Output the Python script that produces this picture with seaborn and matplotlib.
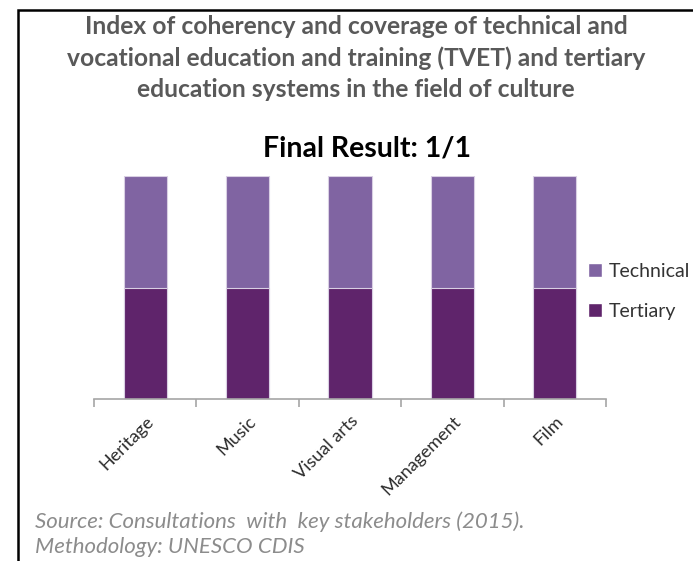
import matplotlib
matplotlib.use("Agg")
import matplotlib.pyplot as plt
import matplotlib.patches as mpatches
from matplotlib.ticker import FixedLocator
import seaborn as sns
import pandas as pd

# Data
categories = ["Heritage", "Music", "Visual arts", "Management", "Film"]
tertiary = [0.5, 0.5, 0.5, 0.5, 0.5]
technical = [0.5, 0.5, 0.5, 0.5, 0.5]

title_lines = ("Index of coherency and coverage of technical and\n"
               "vocational education and training (TVET) and tertiary\n"
               "education systems in the field of culture")
subtitle = "Final Result: 1/1"
source_lines = ["Source: Consultations  with  key stakeholders (2015).",
                "Methodology: UNESCO CDIS"]

col_technical = "#8064A2"
col_tertiary = "#5F246B"

sns.set_theme(style="white")
plt.rcParams["font.family"] = ["Lato", "DejaVu Sans"]

df = pd.DataFrame({"category": categories,
                   "tertiary": tertiary,
                   "technical": technical})
df["total"] = df["tertiary"] + df["technical"]

fig = plt.figure(figsize=(6.93, 5.61), dpi=100)
ax = fig.add_axes([94 / 693, 1 - 399 / 561, (606 - 94) / 693, (399 - 176) / 561])

sns.barplot(data=df, x="category", y="total", color=col_technical,
            saturation=1, width=0.42, edgecolor="#d9cfe3", linewidth=0.8, ax=ax)
sns.barplot(data=df, x="category", y="tertiary", color=col_tertiary,
            saturation=1, width=0.42, edgecolor="#d9cfe3", linewidth=0.8, ax=ax)

ax.set_ylim(0, 1)
ax.set_xlim(-0.5, len(categories) - 0.5)
ax.set_xlabel("")
ax.set_ylabel("")
ax.set_yticks([])
for side in ["left", "right", "top"]:
    ax.spines[side].set_visible(False)
ax.spines["bottom"].set_color("#a6a6a6")
ax.spines["bottom"].set_linewidth(1.2)

# category boundary tick marks
ax.xaxis.set_minor_locator(FixedLocator([i - 0.5 for i in range(len(categories) + 1)]))
ax.tick_params(axis="x", which="minor", bottom=True, length=6, width=1.2,
               color="#a6a6a6", direction="out")
ax.tick_params(axis="x", which="major", bottom=False, length=0, pad=10)
ax.set_xticks(range(len(categories)))
ax.set_xticklabels(categories, rotation=45, ha="right", rotation_mode="anchor",
                   fontsize=13, color="#2b2b2b")

# Frame around the figure
fig.add_artist(mpatches.Rectangle((18 / 693, -0.1), 1.2, (1 - 10 / 561) + 0.1,
                                  transform=fig.transFigure, fill=False,
                                  edgecolor="black", linewidth=1.8))

fig.text(356 / 693, 1 - 58 / 561, title_lines, ha="center", va="center",
         fontsize=17.7, fontweight="bold", color="#595959", linespacing=1.42)
fig.text(367 / 693, 1 - 148 / 561, subtitle, ha="center", va="center",
         fontsize=20.5, fontweight="bold", color="black")

handles = [mpatches.Patch(facecolor=col_technical, label="Technical"),
           mpatches.Patch(facecolor=col_tertiary, label="Tertiary")]
fig.legend(handles=handles, loc="upper left",
           bbox_to_anchor=(580 / 693, 1 - 255 / 561), frameon=False,
           fontsize=14, labelcolor="#333333", handlelength=0.75, handleheight=0.75,
           handletextpad=0.35, labelspacing=1.2, borderaxespad=0)

fig.text(35 / 693, 1 - 522 / 561, source_lines[0], ha="left", va="center",
         fontsize=16, style="italic", color="#8c8c8c")
fig.text(35 / 693, 1 - 547 / 561, source_lines[1], ha="left", va="center",
         fontsize=16, style="italic", color="#8c8c8c")

fig.savefig("out.png", dpi=100)
